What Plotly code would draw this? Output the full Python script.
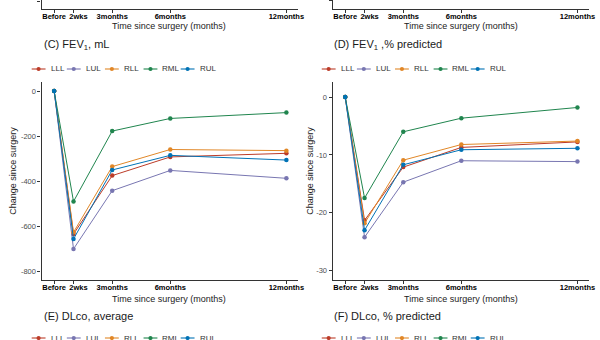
import plotly.graph_objects as go

W, H = 600, 340
FONT = "Liberation Sans, Arial, sans-serif"

# Lobes and their colours (NEJM-style palette)
lobes = ["LLL", "LUL", "RLL", "RML", "RUL"]
lobe_colors = ["#BC3C29", "#7876B1", "#E18727", "#20854E", "#0072B5"]

# Follow-up time points (months) and their labels
time_months = [0, 1, 3, 6, 12]
time_labels = ["Before", "2wks", "3months", "6months", "12months"]

# (C) Change in FEV1, mL
fev1_ml_lll = [0, -636, -376, -293, -277]
fev1_ml_lul = [0, -702, -443, -353, -388]
fev1_ml_rll = [0, -628, -336, -260, -265]
fev1_ml_rml = [0, -491, -178, -122, -96]
fev1_ml_rul = [0, -658, -351, -286, -307]

# (D) Change in FEV1, % predicted
fev1_pct_lll = [0, -21.3, -12.1, -8.7, -7.75]
fev1_pct_lul = [0, -24.2, -14.7, -11.0, -11.15]
fev1_pct_rll = [0, -21.8, -10.9, -8.2, -7.6]
fev1_pct_rml = [0, -17.45, -6.0, -3.65, -1.8]
fev1_pct_rul = [0, -23.0, -11.7, -9.1, -8.85]

# Y tick values per panel
ticks_a = [-1200]
ticks_b = [-30]
ticks_c = [0, -200, -400, -600, -800]
ticks_d = [0, -10, -20, -30]

panel_c_series = [fev1_ml_lll, fev1_ml_lul, fev1_ml_rll, fev1_ml_rml, fev1_ml_rul]
panel_d_series = [fev1_pct_lll, fev1_pct_lul, fev1_pct_rll, fev1_pct_rml, fev1_pct_rul]


def px_x(x):
    return x / W


def px_y(y):
    return 1 - y / H


AXIS_COLOR = "#333333"
X_RANGE = [-0.65, 12.6]
LEFT_DOM = [px_x(42), px_x(301)]
RIGHT_DOM = [px_x(336), px_x(595)]
TOP_DOM = [px_y(9), 1.0]
MID_DOM = [px_y(280), px_y(82)]

# the short "2wks" tick lives on its own overlay axis so its label can be
# nudged right without colliding with "Before"
SHIFTED_IDX = 1
main_vals = [v for i, v in enumerate(time_months) if i != SHIFTED_IDX]
main_labels = [t for i, t in enumerate(time_labels) if i != SHIFTED_IDX]

X_TICK_FONT = dict(family=FONT, size=7.5, color="black", weight="bold")


def x_axis(domain, anchor):
    return dict(
        domain=domain, anchor=anchor, range=X_RANGE,
        tickmode="array", tickvals=main_vals, ticktext=main_labels,
        tickangle=0, ticklabelstandoff=-3,
        ticks="outside", ticklen=3, tickwidth=1, tickcolor=AXIS_COLOR,
        showline=True, linecolor=AXIS_COLOR, linewidth=1.2,
        showgrid=False, zeroline=False, fixedrange=True,
        tickfont=X_TICK_FONT,
    )


def x_overlay(base, anchor):
    return dict(
        overlaying=base, anchor=anchor, side="bottom", range=X_RANGE,
        tickmode="array", tickvals=[time_months[SHIFTED_IDX]],
        ticktext=[time_labels[SHIFTED_IDX]],
        tickangle=0, ticklabelstandoff=-3, ticklabelshift=5,
        ticks="outside", ticklen=3, tickwidth=1, tickcolor=AXIS_COLOR,
        showline=False, showgrid=False, zeroline=False, fixedrange=True,
        tickfont=X_TICK_FONT,
    )


def y_axis(domain, anchor, rng, vals):
    return dict(
        domain=domain, anchor=anchor, range=rng,
        tickmode="array", tickvals=vals, ticktext=[f"{v:g}" for v in vals],
        ticks="outside", ticklen=3, tickwidth=1, tickcolor=AXIS_COLOR,
        showline=True, linecolor=AXIS_COLOR, linewidth=1.2,
        showgrid=False, zeroline=False, fixedrange=True,
        tickfont=dict(family=FONT, size=7.5, color="#4D4D4D"),
    )


fig = go.Figure()

# Panels A and B: only their bottom edge falls inside the page;
# empty traces also register the overlay tick axes
for xa, ya in (("x", "y"), ("x2", "y2"), ("x5", "y"), ("x6", "y2"), ("x7", "y3"), ("x8", "y4")):
    fig.add_trace(go.Scatter(x=[], y=[], mode="lines", showlegend=False, xaxis=xa, yaxis=ya))

for axis_id, series_list in (("3", panel_c_series), ("4", panel_d_series)):
    for name, color, values in zip(lobes, lobe_colors, series_list):
        fig.add_trace(go.Scatter(
            x=time_months, y=values, name=name, mode="lines+markers",
            line=dict(color=color, width=1),
            marker=dict(color=color, size=4.5),
            xaxis="x" + axis_id, yaxis="y" + axis_id,
            showlegend=False, cliponaxis=False,
        ))

annotations = []
shapes = []


def add_text(text, x, y, size, color="#1a1a1a", xanchor="left", angle=0):
    annotations.append(dict(
        text=text, x=px_x(x), y=px_y(y), xref="paper", yref="paper",
        xanchor=xanchor, yanchor="middle", showarrow=False, textangle=angle,
        font=dict(family=FONT, size=size, color=color),
    ))


# Axis titles
for cx, cy in ((171, 26.5), (466, 26.5), (171, 298.5), (466, 298.5)):
    add_text("Time since surgery (months)", cx, cy, 9, "#222222", xanchor="center")
for cx in (13, 313):
    add_text("Change since surgery", cx, 171, 9, "#222222", xanchor="center", angle=-90)

# Panel titles
add_text("(C) FEV<sub>1</sub>, mL", 42, 45, 11)
add_text("(D) FEV<sub>1</sub> ,% predicted", 335, 45, 11)
add_text("(E) DLco, average", 42, 316, 11)
add_text("(F) DLco, % predicted", 335, 316, 11)

# Legend rows: key line + dot + label for each lobe
key_offsets = [0, 35.5, 74, 113, 150.5]
for left, row_y in ((39, 69), (332, 69), (39, 338), (332, 338)):
    for name, color, off in zip(lobes, lobe_colors, key_offsets):
        m = left + off
        shapes.append(dict(
            type="line", xref="paper", yref="paper",
            x0=px_x(m - 7), x1=px_x(m + 7), y0=px_y(row_y), y1=px_y(row_y),
            line=dict(color=color, width=1.1),
        ))
        shapes.append(dict(
            type="circle", xref="paper", yref="paper",
            x0=px_x(m - 2.1), x1=px_x(m + 2.1), y0=px_y(row_y + 2.1), y1=px_y(row_y - 2.1),
            line=dict(color=color, width=0), fillcolor=color,
        ))
        add_text(name, m + 10, row_y, 8, "#333333")

fig.update_layout(
    width=W, height=H, autosize=False,
    margin=dict(l=0, r=0, t=0, b=0, pad=0),
    paper_bgcolor="white", plot_bgcolor="white",
    showlegend=False,
    xaxis=x_axis(LEFT_DOM, "y"),
    yaxis=y_axis(TOP_DOM, "x", [-1240, -1195], ticks_a),
    xaxis2=x_axis(RIGHT_DOM, "y2"),
    yaxis2=y_axis(TOP_DOM, "x2", [-31.8, -29.8], ticks_b),
    xaxis3=x_axis(LEFT_DOM, "y3"),
    yaxis3=y_axis(MID_DOM, "x3", [-840, 40], ticks_c),
    xaxis4=x_axis(RIGHT_DOM, "y4"),
    yaxis4=y_axis(MID_DOM, "x4", [-31.6, 2.6], ticks_d),
    xaxis5=x_overlay("x", "y"),
    xaxis6=x_overlay("x2", "y2"),
    xaxis7=x_overlay("x3", "y3"),
    xaxis8=x_overlay("x4", "y4"),
    annotations=annotations,
    shapes=shapes,
)

fig.write_html("out.html")
